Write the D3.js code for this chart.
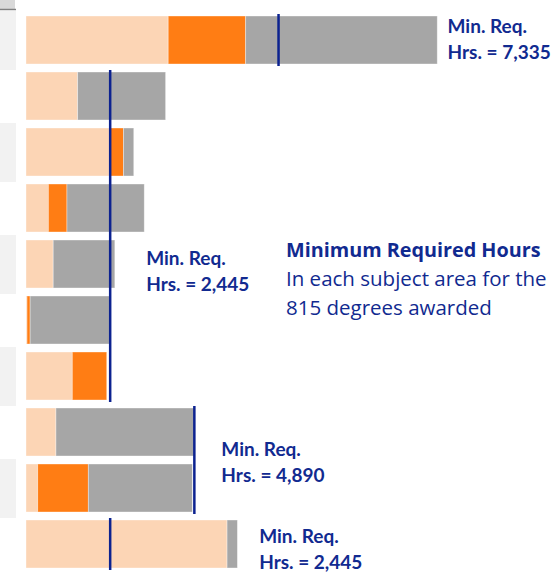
<!DOCTYPE html>
<html>
<head>
<meta charset="utf-8">
<script src="https://d3js.org/d3.v7.min.js"></script>
<style>
	body { margin: 0; background: #fff; }
	text { font-family: Lato, 'Open Sans', sans-serif; }
	.title text { font-family: 'Open Sans', Lato, sans-serif; }
</style>
</head>
<body>
<div id="container"></div>
<script>
var categories = ['A', 'B', 'C', 'D', 'E', 'F', 'G', 'H', 'I', 'J'];
var series = ['part1', 'part2', 'part3'];
var part1 = [4130, 1500, 2420, 650, 790, 30, 1345, 870, 340, 5840];
var part2 = [2250, 0, 410, 540, 0, 90, 1000, 0, 1470, 0];
var part3 = [5565, 2555, 300, 2245, 1790, 2300, 0, 4035, 3020, 300];

var minReq = [7335, 2445, 4890, 2445];
var minReqFirst = [0, 1, 7, 9];
var minReqLast = [0, 6, 8, 9];

var titleLines = ['Minimum Required Hours', 'In each subject area for the', '815 degrees awarded'];

var width = 558,
	height = 572;

var colors = { part1: '#fcd5b5', part2: '#ff7d14', part3: '#a6a6a6' },
	navy = '#0c2290',
	textColor = '#112a90';

// label offsets from each min. req. line
var noteDx = [169, 36, 27, 149],
	noteDy = [-7, 29, -4, -1];

var rows = categories.map(function(c, i) {
	return { cat: c, part1: part1[i], part2: part2[i], part3: part3[i] };
});

var stack = d3.stack().keys(series)(rows);

var xScale = d3.scaleLinear()
			.domain([0, 14000])
			.range([26, 508]);

var yScale = d3.scaleBand()
			.domain(categories)
			.range([12, 572])
			.paddingInner(8 / 56)
			.paddingOuter(4 / 56);

var bw = yScale.bandwidth();

var canvas = d3.select('#container').append('svg')
			.attr('width', width)
			.attr('height', height);

// cropped side table remains
canvas.append('rect')
	.attr('x', 0).attr('y', 0)
	.attr('width', 15).attr('height', 9)
	.attr('fill', '#d9d9d9');
canvas.append('line')
	.attr('x1', 0).attr('x2', 16)
	.attr('y1', 9.5).attr('y2', 9.5)
	.attr('stroke', '#808080')
	.attr('stroke-width', 1.5);

canvas.selectAll('.strip')
	.data(categories.filter(function(d, i) { return i % 2 === 0; }))
	.enter()
		.append('rect')
		.attr('class', 'strip')
		.attr('x', 0)
		.attr('y', function(d) { return yScale(d) - 5; })
		.attr('width', 16)
		.attr('height', bw + 11)
		.attr('fill', '#f2f2f2');

canvas.selectAll('.layer')
	.data(stack)
	.enter()
		.append('g')
		.attr('class', 'layer')
		.attr('fill', function(d) { return colors[d.key]; })
		.selectAll('rect')
		.data(function(d) { return d; })
		.enter()
			.append('rect')
			.attr('x', function(d) { return xScale(d[0]); })
			.attr('y', function(d) { return yScale(d.data.cat); })
			.attr('width', function(d) { return xScale(d[1]) - xScale(d[0]); })
			.attr('height', bw)
			.attr('stroke', 'rgba(255,255,255,0.45)')
			.attr('stroke-width', 0.8);

var groups = minReq.map(function(v, i) {
	var top = yScale(categories[minReqFirst[i]]),
		bottom = yScale(categories[minReqLast[i]]) + bw;
	return { value: v, top: top, bottom: bottom, i: i };
});

canvas.selectAll('.minline')
	.data(groups)
	.enter()
		.append('line')
		.attr('class', 'minline')
		.attr('x1', function(d) { return xScale(d.value); })
		.attr('x2', function(d) { return xScale(d.value); })
		.attr('y1', function(d) { return d.top - 2; })
		.attr('y2', function(d) { return d.bottom + 2; })
		.attr('stroke', navy)
		.attr('stroke-width', 2.5);

var notes = canvas.selectAll('.note')
	.data(groups)
	.enter()
		.append('text')
		.attr('class', 'note')
		.attr('fill', textColor)
		.attr('font-weight', 'bold')
		.attr('font-size', 19)
		.attr('transform', function(d) {
			var x = xScale(d.value) + noteDx[d.i],
				y = (d.top + d.bottom) / 2 + noteDy[d.i];
			return 'translate(' + x + ',' + y + ')';
		});

notes.append('tspan')
	.attr('x', 0).attr('y', 0)
	.text('Min. Req.');
notes.append('tspan')
	.attr('x', 0).attr('y', 26)
	.text(function(d) { return 'Hrs. = ' + d3.format(',')(d.value); });

canvas.append('g')
	.attr('class', 'title')
	.selectAll('text')
	.data(titleLines)
	.enter()
		.append('text')
		.attr('x', 286)
		.attr('y', function(d, i) { return 257 + i * 29; })
		.attr('fill', textColor)
		.attr('font-size', function(d, i) { return i === 0 ? 19.8 : 20.5; })
		.attr('font-weight', function(d, i) { return i === 0 ? 'bold' : 'normal'; })
		.text(function(d) { return d; });
</script>
</body>
</html>
